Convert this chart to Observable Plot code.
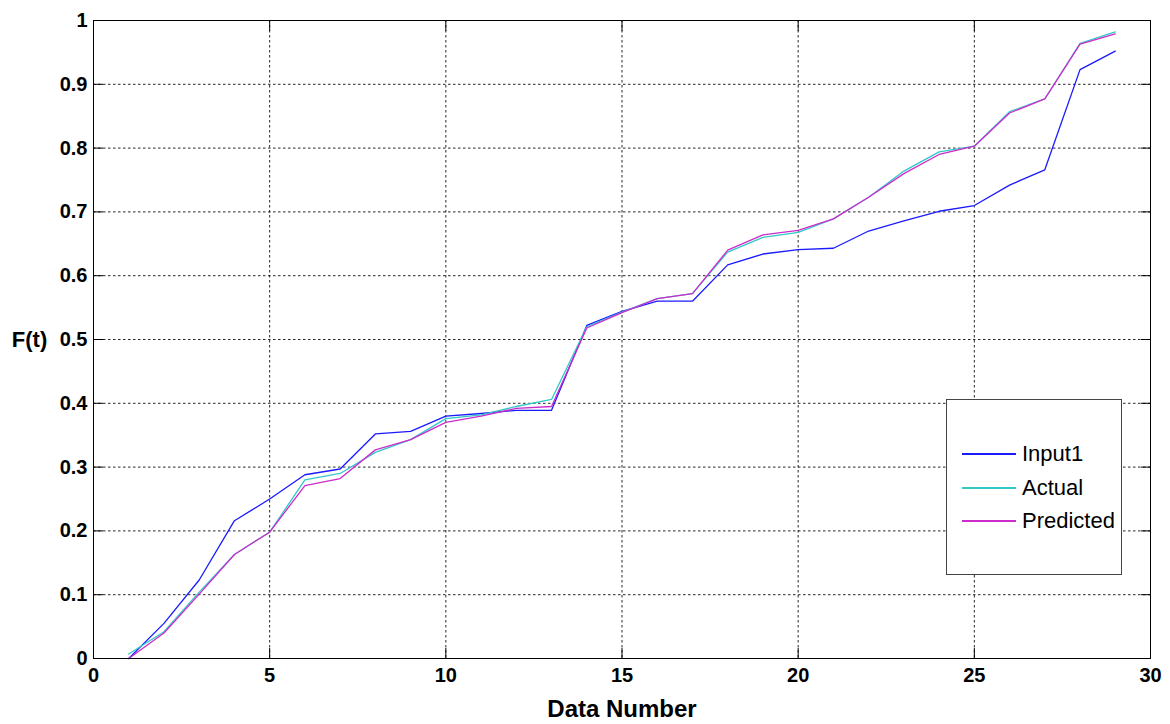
<!DOCTYPE html>
<html><head><meta charset="utf-8">
<script src="https://cdn.jsdelivr.net/npm/d3@7"></script>
<script src="https://cdn.jsdelivr.net/npm/@observablehq/plot@0.6"></script>
<style>
body{margin:0;background:#fff;}
#wrap{position:relative;width:1170px;height:724px;}
#legend{position:absolute;left:946px;top:399px;width:176px;height:176px;border:1px solid #444;background:#fff;box-sizing:border-box;font-family:"Liberation Sans",Arial,sans-serif;font-size:22px;color:#000;}
.row{position:absolute;left:15px;height:30px;display:flex;align-items:center;}
.sw{width:54px;height:2px;margin-right:6px;}
</style></head><body><div id="wrap"></div>
<script>
const dataNumber = [1,2,3,4,5,6,7,8,9,10,11,12,13,14,15,16,17,18,19,20,21,22,23,24,25,26,27,28,29];
const input1 = [0.000,0.055,0.123,0.216,0.250,0.288,0.297,0.352,0.356,0.380,0.384,0.389,0.389,0.522,0.544,0.560,0.560,0.617,0.634,0.641,0.643,0.670,0.686,0.701,0.710,0.742,0.766,0.923,0.952];
const actual = [0.007,0.042,0.104,0.163,0.198,0.280,0.290,0.323,0.343,0.376,0.382,0.395,0.406,0.520,0.543,0.564,0.572,0.637,0.660,0.668,0.689,0.723,0.764,0.794,0.803,0.857,0.877,0.964,0.982];
const predicted = [0.000,0.040,0.101,0.163,0.198,0.271,0.282,0.327,0.343,0.370,0.380,0.392,0.395,0.518,0.542,0.564,0.572,0.640,0.664,0.671,0.689,0.723,0.760,0.790,0.803,0.855,0.877,0.963,0.979];
const seriesNames = ["Input1","Actual","Predicted"];
const seriesColors = ["#1a1aff","#33c8c8","#cc2ccc"];
const xTicks = [0,5,10,15,20,25,30];
const yTicks = [0,0.1,0.2,0.3,0.4,0.5,0.6,0.7,0.8,0.9,1];
const xLabel = ["Data Number"];
const yLabel = ["F(t)"];

const seriesValues = [input1, actual, predicted];
const rows = [];
seriesNames.forEach((name, k) => dataNumber.forEach((x, i) => rows.push({series: name, x, y: seriesValues[k][i]})));

const fmtY = d => String(+d.toFixed(1));
const gridStyle = {stroke: "#000", strokeOpacity: 0.85, strokeDasharray: "2.5,2.5", strokeWidth: 1};
const tickFont = {fontSize: 20, fontWeight: "bold"};

const chart = Plot.plot({
  width: 1170, height: 724,
  marginLeft: 93, marginRight: 20, marginTop: 20, marginBottom: 66,
  style: {fontFamily: "'Liberation Sans', Arial, sans-serif", background: "white", color: "#000"},
  x: {domain: [0, 30]},
  y: {domain: [0, 1]},
  color: {domain: seriesNames, range: seriesColors},
  marks: [
    Plot.gridX(xTicks, gridStyle),
    Plot.gridY(yTicks, gridStyle),
    Plot.axisX(xTicks, {anchor: "bottom", tickSize: 0, tickPadding: 9, label: null, ...tickFont}),
    Plot.axisY(yTicks, {anchor: "left", tickSize: 0, tickPadding: 6, tickFormat: fmtY, label: null, ...tickFont}),
    Plot.axisX(xTicks, {anchor: "bottom", tickSize: -10, tickFormat: () => "", label: null, stroke: "#000"}),
    Plot.axisX(xTicks, {anchor: "top", tickSize: -10, tickFormat: () => "", label: null, stroke: "#000"}),
    Plot.axisY(yTicks, {anchor: "left", tickSize: -10, tickFormat: () => "", label: null, stroke: "#000"}),
    Plot.axisY(yTicks, {anchor: "right", tickSize: -10, tickFormat: () => "", label: null, stroke: "#000"}),
    Plot.line(rows, {x: "x", y: "y", z: "series", stroke: "series", strokeWidth: 1.3}),
    Plot.frame({stroke: "#000", strokeWidth: 1}),
    Plot.text(xLabel, {text: d => d, frameAnchor: "bottom", dy: 51, lineAnchor: "middle", fontSize: 24, fontWeight: "bold"}),
    Plot.text(yLabel, {text: d => d, frameAnchor: "left", dx: -64, textAnchor: "middle", lineAnchor: "middle", fontSize: 22, fontWeight: "bold"})
  ]
});
const wrap = document.getElementById("wrap");
wrap.appendChild(chart);

const legend = document.createElement("div");
legend.id = "legend";
seriesNames.forEach((name, k) => {
  const row = document.createElement("div");
  row.className = "row";
  row.style.top = (39 + k * 33.5) + "px";
  const sw = document.createElement("div");
  sw.className = "sw";
  sw.style.background = seriesColors[k];
  const t = document.createElement("span");
  t.textContent = name;
  row.appendChild(sw); row.appendChild(t);
  legend.appendChild(row);
});
wrap.appendChild(legend);
</script></body></html>
